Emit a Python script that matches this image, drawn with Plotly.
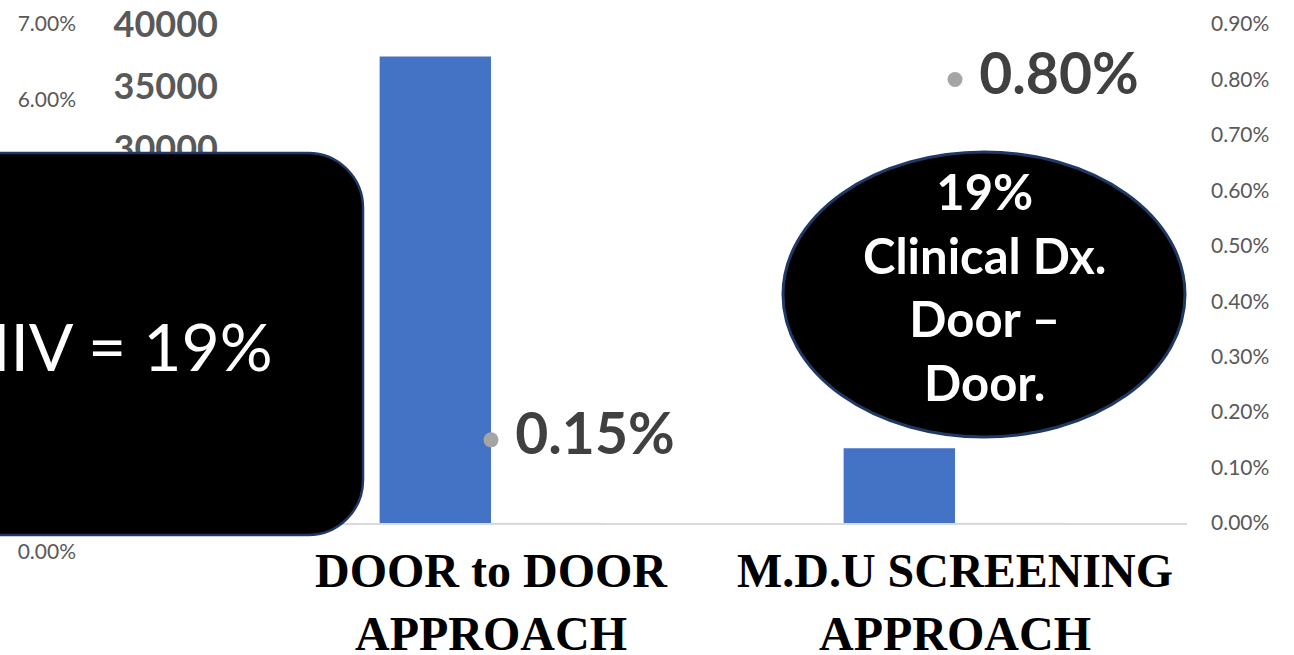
import plotly.graph_objects as go

# ---- data ----
categories = ["DOOR to DOOR<br>APPROACH", "M.D.U SCREENING<br>APPROACH"]
screened = [37400, 6000]
empty_series = [0, 0]
positivity = [0.0015, 0.0080]
count_ticks = [0, 5000, 10000, 15000, 20000, 25000, 30000, 35000, 40000]
right_pct_ticks = [0, 0.001, 0.002, 0.003, 0.004, 0.005, 0.006, 0.007, 0.008, 0.009]
left_pct_ticks = [0, 0.01, 0.02, 0.03, 0.04, 0.05, 0.06, 0.07]
box_text = "HIV = 19%"
oval_text = "19%<br>Clinical Dx.<br>Door –<br>Door."

W, H = 1294, 655


def px(x):
    return x / W


def py(y):
    return 1 - y / H


fig = go.Figure()
fig.add_trace(go.Scatter(x=[0], y=[0], xaxis="x2", yaxis="y3", mode="markers",
                         marker=dict(opacity=0), showlegend=False, hoverinfo="skip"))
fig.add_trace(go.Bar(x=categories, y=screened, marker=dict(color="#4472C4", line=dict(width=0)),
                     showlegend=False, hoverinfo="skip"))
fig.add_trace(go.Bar(x=categories, y=empty_series, marker=dict(color="#ED7D31"),
                     showlegend=False, hoverinfo="skip"))
fig.add_trace(go.Scatter(x=categories, y=positivity, yaxis="y2", mode="markers+text",
                         marker=dict(color="#A5A5A5", size=15),
                         texttemplate=" %{y:.2%}", textposition="middle right",
                         textfont=dict(family="Lato", size=57, color="#404040", weight="bold"),
                         showlegend=False, hoverinfo="skip", cliponaxis=False))

fig.update_layout(
    width=W, height=H,
    margin=dict(l=0, r=0, t=0, b=0, pad=0, autoexpand=False),
    paper_bgcolor="white", plot_bgcolor="rgba(0,0,0,0)",
    barmode="group", bargap=0.52, bargroupgap=0,
    xaxis=dict(domain=[px(259), px(1187)], showgrid=False, showline=True, automargin=False,
               linecolor="#D9D9D9", linewidth=1.5, ticks="", anchor="y",
               ticklabelstandoff=5,
               tickfont=dict(family="Liberation Serif", size=48, color="black", weight="bold")),
    yaxis=dict(range=[0, 40000], tickvals=count_ticks, tickformat="d", showgrid=False,
               zeroline=False, showline=False, automargin=False, anchor="x",
               domain=[py(523), py(24)], ticks="", ticklabelstandoff=40,
               tickfont=dict(family="Lato", size=36, color="#595959", weight="bold")),
    yaxis2=dict(range=[0, 0.009], tickvals=right_pct_ticks, tickformat=".2%",
                overlaying="y", side="right", anchor="x", automargin=False,
                showgrid=False, zeroline=False, ticks="", ticklabelstandoff=23,
                tickfont=dict(family="Lato", size=21, color="#595959")),
    xaxis2=dict(domain=[px(77), px(1187)], visible=False, anchor="y3", range=[1, 2]),
    yaxis3=dict(range=[0, 0.07], tickvals=left_pct_ticks, tickformat=".2%", automargin=False,
                domain=[py(552), py(24)], anchor="x2", side="left", ticks="",
                showgrid=False, zeroline=False, showline=False,
                tickfont=dict(family="Lato", size=21, color="#595959")),
)

# rounded black box on the left
r = 55
k = 0.552 * r
x_r, y_t, y_b, x_l = 363, 153, 535, -30
path = (f"M {px(x_l)},{py(y_t)} L {px(x_r - r)},{py(y_t)} "
        f"C {px(x_r - r + k)},{py(y_t)} {px(x_r)},{py(y_t + r - k)} {px(x_r)},{py(y_t + r)} "
        f"L {px(x_r)},{py(y_b - r)} "
        f"C {px(x_r)},{py(y_b - r + k)} {px(x_r - r + k)},{py(y_b)} {px(x_r - r)},{py(y_b)} "
        f"L {px(x_l)},{py(y_b)} Z")
fig.add_shape(type="path", path=path, xref="paper", yref="paper", layer="above",
              fillcolor="black", line=dict(color="#1F3864", width=2.5))
fig.add_shape(type="circle", xref="paper", yref="paper", layer="above",
              x0=px(783), x1=px(1185), y0=py(437), y1=py(152),
              fillcolor="black", line=dict(color="#1F3864", width=3))

fig.add_annotation(text=box_text, xref="paper", yref="paper", x=px(275), y=py(346),
                   xanchor="right", yanchor="middle", showarrow=False,
                   font=dict(family="Lato", size=66, color="white"))
fig.add_annotation(text=oval_text, xref="paper", yref="paper", x=px(984), y=py(286),
                   xanchor="center", yanchor="middle", showarrow=False,
                   font=dict(family="Lato", size=49, color="white", weight="bold"))

fig.write_html("out.html", config={"displayModeBar": False},
               post_script="document.body.style.margin='0';document.body.style.overflow='hidden';")
